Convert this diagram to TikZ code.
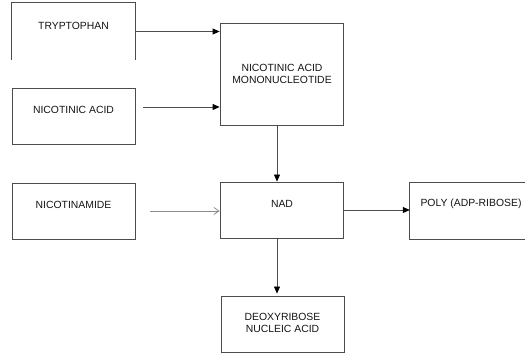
\documentclass[tikz,border=0pt]{standalone}
\usepackage{fontspec}
\setmainfont{Liberation Sans}
\usetikzlibrary{arrows.meta,calc}
\definecolor{linec}{gray}{0.3}
\definecolor{textc}{gray}{0.08}
\tikzset{
  boxnode/.style={draw=linec, line width=0.8pt, inner sep=0pt, minimum width=123pt},
  openbox/.style={inner sep=0pt},
  lbl/.style={text=textc, font=\fontsize{10.4}{12.5}\selectfont, inner sep=0pt, align=center},
  conn/.style={draw=linec, line width=0.8pt, -{Triangle[length=7pt,width=6pt,color=black]}},
  fadeconn/.style={draw=black!45, line width=0.8pt, -{Straight Barb[length=5pt,width=7pt]}},
  edge/.style={draw=linec, line width=0.8pt}
}
\begin{document}
\begin{tikzpicture}[x=1pt,y=-1pt]
\useasboundingbox (0,0) rectangle (525,358);
% boxes
\node[openbox, minimum width=123pt, minimum height=57pt] (tryp) at (73.5,31.5) {};
\draw[edge] (tryp.south west) -- (tryp.north west) -- (tryp.north east) -- (tryp.south east);
\node[boxnode, minimum height=56pt] (nica) at (73.5,116) {};
\node[boxnode, minimum height=102pt] (namn) at (281.5,74) {};
\node[boxnode, minimum height=56pt] (nam) at (73.5,211) {};
\node[boxnode, minimum height=56pt] (nad) at (281.5,210) {};
\node[boxnode, minimum height=56pt] (dna) at (282.5,324) {};
\node[openbox, minimum width=117pt, minimum height=56pt] (poly) at (468.5,211) {};
\draw[edge] (poly.north east) -- (poly.north west) -- (poly.south west) -- (poly.south east);
% labels
\node[lbl] (trypl) at (73.5,26) {TRYPTOPHAN};
\node[lbl] (nical) at (73.5,110) {NICOTINIC ACID};
\node[lbl] (namnl) at (282,74) {NICOTINIC ACID\\MONONUCLEOTIDE};
\node[lbl] (naml) at (73.5,205) {NICOTINAMIDE};
\node[lbl] (nadl) at (282,204) {NAD};
\node[lbl] (polyl) at (471,204) {POLY (ADP-RIBOSE)};
\node[lbl] (dnal) at (282.5,323) {DEOXYRIBOSE\\NUCLEIC ACID};
% connectors
\draw[conn] (tryp.east) -- (tryp.east -| namn.west);
\draw[conn] ($(nica.east)+(8,-9)$) -- ($(nica.east -| namn.west)+(0,-9)$);
\draw[conn] (namn.south -| 277,0) -- (nad.north -| 277,0);
\draw[fadeconn] ($(nam.east)+(15,0)$) -- (nam.east -| nad.west);
\draw[conn] (nad.east) -- (nad.east -| poly.west);
\draw[conn] (nad.south -| 277,0) -- ($(dna.north -| 277,0)+(0,-2)$);
\end{tikzpicture}
\end{document}
